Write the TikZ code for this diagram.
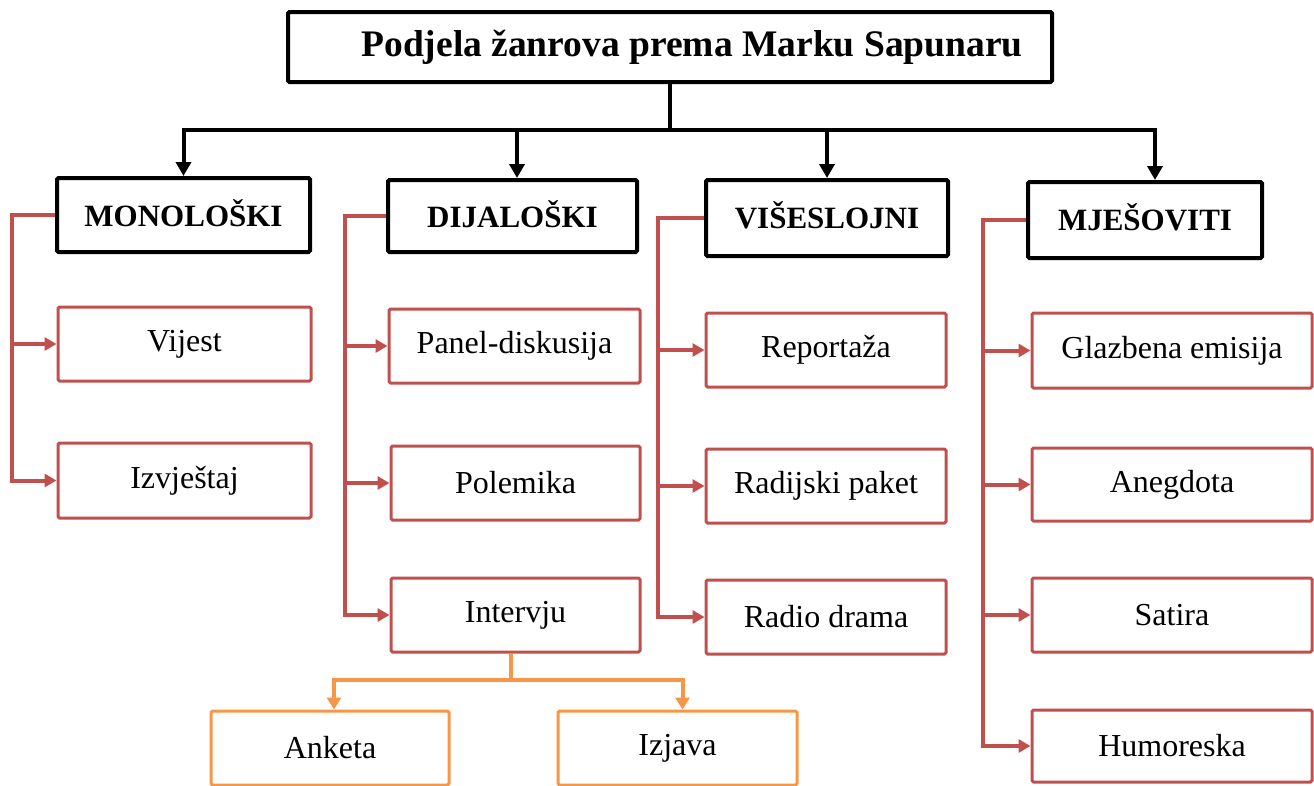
\documentclass[tikz,border=0pt]{standalone}
\usepackage{fontspec}
\setmainfont{Liberation Serif}
\usetikzlibrary{arrows.meta}
\definecolor{redc}{HTML}{C0504D}
\definecolor{orc}{HTML}{F79646}
\begin{document}
\begin{tikzpicture}[x=1pt,y=-1pt,
 box/.style={draw, rectangle, rounded corners=1.5pt, inner sep=0pt, font=\fontsize{32}{38}\selectfont},
 cat/.style={box, line width=4pt, font=\fontsize{31}{37}\selectfont\bfseries},
 sub/.style={box, draw=redc, line width=3pt},
 ans/.style={box, draw=orc, line width=3pt},
 blk/.style={line width=4pt},
 blkarr/.style={blk, -{Triangle[length=14pt,width=15pt]}},
 redl/.style={draw=redc, line width=4pt},
 redarr/.style={redl, -{Triangle[length=12pt,width=13pt]}},
 orl/.style={draw=orc, line width=4pt},
 orarr/.style={orl, -{Triangle[length=12pt,width=14pt]}},
]
\useasboundingbox (0,0) rectangle (1314,785);
\node[cat, minimum width=764pt, minimum height=70pt, font=\fontsize{37.5}{44}\selectfont\bfseries] (title) at (670,47) {\hspace*{44pt}Podjela žanrova prema Marku Sapunaru};
\node[cat, minimum width=253pt, minimum height=74pt] (mono) at (183.5,215) {\raisebox{4pt}{MONOLOŠKI}};
\node[cat, minimum width=249pt, minimum height=72pt] (dija) at (512.5,216) {\raisebox{4pt}{DIJALOŠKI}};
\node[cat, minimum width=242pt, minimum height=76pt] (vise) at (827,218) {\raisebox{5pt}{VIŠESLOJNI}};
\node[cat, minimum width=234pt, minimum height=76pt] (mjes) at (1145,220) {\raisebox{5pt}{MJEŠOVITI}};
\node[sub, minimum width=253pt, minimum height=74pt] (vij) at (184.5,344) {Vijest};
\node[sub, minimum width=253pt, minimum height=75pt] (izv) at (184.5,480.5) {Izvještaj};
\node[sub, minimum width=251pt, minimum height=74pt] (pan) at (514.5,346) {Panel-diskusija};
\node[sub, minimum width=249pt, minimum height=74pt] (pol) at (515.5,483) {Polemika};
\node[sub, minimum width=249pt, minimum height=74pt] (intv) at (515.5,615) {Intervju};
\node[sub, minimum width=240pt, minimum height=74pt] (rep) at (826,350) {Reportaža};
\node[sub, minimum width=240pt, minimum height=74pt] (rad) at (826,486) {Radijski paket};
\node[sub, minimum width=240pt, minimum height=74pt] (rdr) at (826,617) {Radio drama};
\node[sub, minimum width=280pt, minimum height=75pt] (glz) at (1172,350.5) {Glazbena emisija};
\node[sub, minimum width=280pt, minimum height=73pt] (ane) at (1172,484.5) {Anegdota};
\node[sub, minimum width=280pt, minimum height=74pt] (sat) at (1172,615) {Satira};
\node[sub, minimum width=280pt, minimum height=72pt] (hum) at (1172,746) {Humoreska};
\node[ans, minimum width=238pt, minimum height=74pt] (ank) at (330,748) {Anketa};
\node[ans, minimum width=239pt, minimum height=74pt] (izj) at (677.5,748) {Izjava};
% black connectors
\draw[blk] (title.south) -- ++(0,46) coordinate (hub);
\coordinate (dijT) at ([xshift=4.5pt]dija.north);
\coordinate (mjesT) at ([xshift=10pt]mjes.north);
\draw[blk, line cap=rect] (mono.north |- hub) -- (mjesT |- hub);
\draw[blkarr] (mono.north |- hub) -- (mono.north);
\draw[blkarr] (dijT |- hub) -- (dijT);
\draw[blkarr] (vise.north |- hub) -- (vise.north);
\draw[blkarr] (mjesT |- hub) -- (mjesT);
% red connectors
\draw[redarr] (mono.west) -- ++(-43,0) coordinate (mt) |- (izv.west);
\draw[redarr] (mt |- vij.west) -- (vij.west);
\draw[redarr] (dija.west) -- ++(-41,0) coordinate (dt) |- (intv.west);
\draw[redarr] (dt |- pan.west) -- (pan.west);
\draw[redarr] (dt |- pol.west) -- (pol.west);
\draw[redarr] (vise.west) -- ++(-46,0) coordinate (vt) |- (rdr.west);
\draw[redarr] (vt |- rep.west) -- (rep.west);
\draw[redarr] (vt |- rad.west) -- (rad.west);
\draw[redarr] (mjes.west) -- ++(-43,0) coordinate (jt) |- (hum.west);
\draw[redarr] (jt |- glz.west) -- (glz.west);
\draw[redarr] (jt |- ane.west) -- (ane.west);
\draw[redarr] (jt |- sat.west) -- (sat.west);
% orange connectors
\coordinate (intS) at ([xshift=-5pt]intv.south);
\draw[orl] (intS) -- ++(0,26) coordinate (oh);
\coordinate (ankT) at ([xshift=4pt]ank.north);
\coordinate (izjT) at ([xshift=5pt]izj.north);
\draw[orarr] (oh) -| (ankT);
\draw[orarr] (oh) -| (izjT);
\end{tikzpicture}
\end{document}
